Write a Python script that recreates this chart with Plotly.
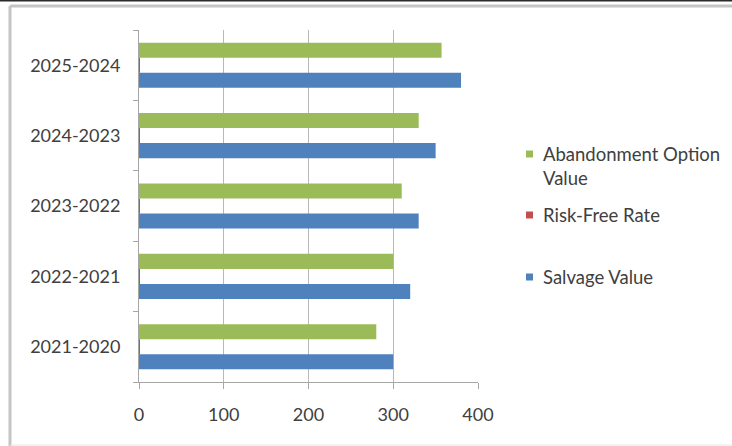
import plotly.graph_objects as go

# Data
periods = ["2021-2020", "2022-2021", "2023-2022", "2024-2023", "2025-2024"]
salvage_value = [300, 320, 330, 350, 380]
risk_free_rate = [0.05, 0.05, 0.06, 0.06, 0.07]
abandonment_value = [280, 300, 310, 330, 357]
series_names = ["Salvage Value", "Risk-Free Rate", "Abandonment Option Value"]
series_colors = ["#4F81BD", "#C0504D", "#9BBB59"]
x_ticks = [0, 100, 200, 300, 400]

# Canvas and plot-area geometry (pixels)
W, H = 732, 446
L, R, T, B = 139, 254, 30, 64
PW, PH = W - L - R, H - T - B

FONT = "Lato"
TEXT = "#404040"
TICK_SIZE = 18
LEGEND_SIZE = 18.5


def px(x):
    return (x - L) / PW


def py(y):
    return (H - B - y) / PH


fig = go.Figure()
for name, vals, col in zip(series_names, [salvage_value, risk_free_rate, abandonment_value], series_colors):
    fig.add_trace(go.Bar(y=periods, x=vals, orientation="h", name=name,
                         marker=dict(color=col, line=dict(width=0)), showlegend=False))

# Hand-placed legend (keys + labels) to the right of the plot
legend_rows = [
    ("Abandonment Option<br>Value", series_colors[2], 154, 166),
    ("Risk-Free Rate", series_colors[1], 215, 215),
    ("Salvage Value", series_colors[0], 277, 277),
]
shapes = []
annotations = []
for label, col, key_y, text_y in legend_rows:
    shapes.append(dict(type="rect", xref="paper", yref="paper",
                       x0=px(526), x1=px(533), y0=py(key_y + 3.5), y1=py(key_y - 3.5),
                       fillcolor=col, line=dict(width=0)))
    annotations.append(dict(text=label, xref="paper", yref="paper", x=px(541), y=py(text_y),
                            xanchor="left", yanchor="middle", align="left", showarrow=False,
                            font=dict(family=FONT, size=LEGEND_SIZE, color=TEXT)))

# Outer frame: dark rule along the top, grey left/top edges, faint bottom edge
shapes += [
    dict(type="line", xref="paper", yref="paper", x0=px(0), x1=px(W), y0=py(0.5), y1=py(0.5),
         line=dict(color="#2a2a2a", width=2)),
    dict(type="line", xref="paper", yref="paper", x0=px(10), x1=px(W), y0=py(6), y1=py(6),
         line=dict(color="#c4c4c4", width=3)),
    dict(type="line", xref="paper", yref="paper", x0=px(10), x1=px(10), y0=py(6), y1=py(H),
         line=dict(color="#c4c4c4", width=3)),
    dict(type="line", xref="paper", yref="paper", x0=px(10), x1=px(W), y0=py(H - 1), y1=py(H - 1),
         line=dict(color="#e6e6e6", width=1)),
]

fig.update_layout(
    width=W, height=H,
    margin=dict(l=L, r=R, t=T, b=B, pad=0),
    paper_bgcolor="white", plot_bgcolor="white",
    barmode="group", bargap=0.36, bargroupgap=0,
    font=dict(family=FONT, size=TICK_SIZE, color=TEXT),
    shapes=shapes, annotations=annotations,
    xaxis=dict(range=[0, 400], tickvals=x_ticks, showgrid=True, gridcolor="#b8b8b8", gridwidth=1,
               zeroline=False, showline=True, linecolor="#a6a6a6", linewidth=1,
               ticks="outside", ticklen=6, tickcolor="#a6a6a6",
               ticklabelstandoff=10,
               tickfont=dict(family=FONT, size=TICK_SIZE, color=TEXT)),
    yaxis=dict(type="category", categoryorder="array", categoryarray=periods,
               showgrid=False, zeroline=False, showline=True, linecolor="#a6a6a6", linewidth=1,
               ticks="outside", tickson="boundaries", ticklen=5, tickcolor="#a6a6a6",
               ticklabelstandoff=14,
               tickfont=dict(family=FONT, size=TICK_SIZE, color=TEXT)),
)

fig.write_html(
    "out.html",
    config={"displayModeBar": False},
    post_script="document.body.style.margin='0';document.body.style.overflow='hidden';",
)
